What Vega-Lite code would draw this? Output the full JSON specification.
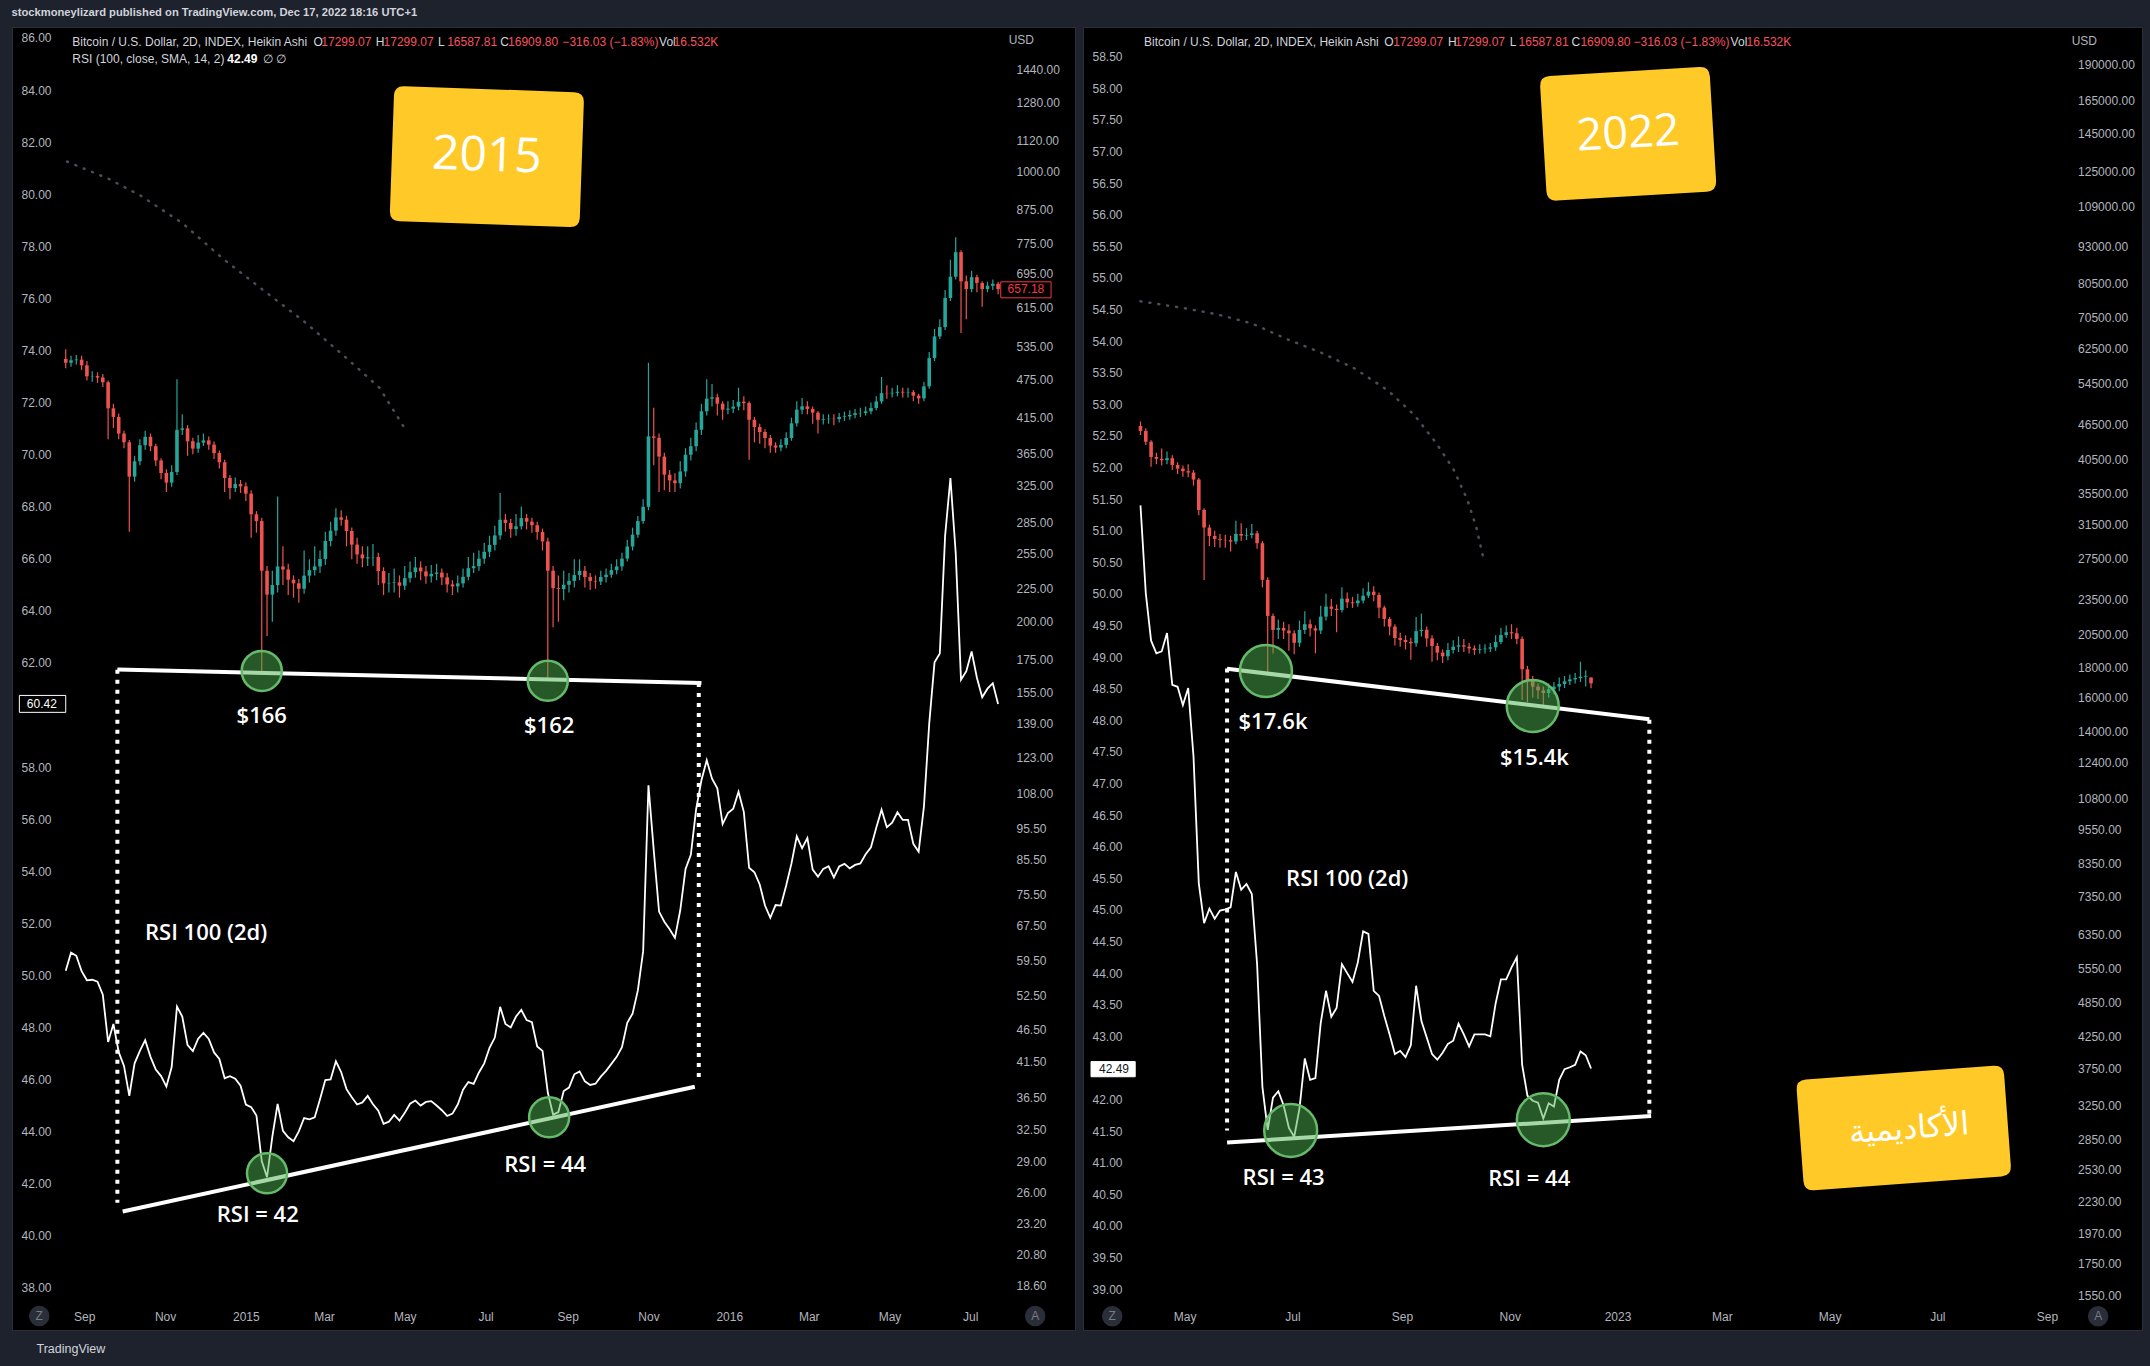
{
"$schema": "https://vega.github.io/schema/vega-lite/v6.json",
"background": "#1e222d",
"padding": {"left": 11, "top": 7, "right": 11, "bottom": 36},
"title": {"text": "stockmoneylizard published on TradingView.com, Dec 17, 2022 18:16 UTC+1", "anchor": "start", "frame": "bounds", "font": "Liberation Sans", "fontSize": 11.2, "fontWeight": "bold", "color": "#d1d4dc", "offset": 8},
"spacing": 6,
"config": {
  "view": {"fill": "#000000", "stroke": "#2a2e39", "strokeWidth": 1},
  "axis": {"labelFont": "Liberation Sans", "labelColor": "#b2b5be", "labelFontSize": 12, "ticks": false, "domain": false, "grid": false, "labelPadding": 0, "labelOverlap": false, "zindex": 1},
  "text": {"font": "Liberation Sans"}
},
"datasets": {
"cL": [
{"d":"2014-08-18","o":512,"h":530,"l":495,"c":505,"r":50.18},
{"d":"2014-08-22","o":505,"h":518,"l":498,"c":509.5,"r":50.87},
{"d":"2014-08-26","o":509.5,"h":519,"l":502,"c":510.7,"r":50.75},
{"d":"2014-08-30","o":510.7,"h":518,"l":492,"c":500.4,"r":50.16},
{"d":"2014-09-03","o":500.4,"h":508,"l":474,"c":481,"r":49.81},
{"d":"2014-09-07","o":481,"h":490,"l":472,"c":481.5,"r":49.83},
{"d":"2014-09-11","o":481.5,"h":488,"l":470,"c":479,"r":49.76},
{"d":"2014-09-15","o":479,"h":485,"l":463,"c":471,"r":49.26},
{"d":"2014-09-19","o":471,"h":474,"l":384,"c":429,"r":47.44},
{"d":"2014-09-23","o":429,"h":436,"l":400,"c":416,"r":48.13},
{"d":"2014-09-27","o":416,"h":421,"l":384,"c":392,"r":47.05},
{"d":"2014-10-01","o":392,"h":396,"l":372,"c":380,"r":46.52},
{"d":"2014-10-05","o":380,"h":383,"l":276,"c":336,"r":45.37},
{"d":"2014-10-09","o":336,"h":362,"l":330,"c":355,"r":46.62},
{"d":"2014-10-13","o":355,"h":384,"l":350,"c":376,"r":47.1},
{"d":"2014-10-17","o":376,"h":396,"l":370,"c":387.5,"r":47.51},
{"d":"2014-10-21","o":387.5,"h":392,"l":368,"c":374.6,"r":46.87},
{"d":"2014-10-25","o":374.6,"h":378,"l":349,"c":356,"r":46.38},
{"d":"2014-10-29","o":356,"h":359,"l":333,"c":340.4,"r":46.13},
{"d":"2014-11-02","o":340.4,"h":345,"l":318,"c":328.9,"r":45.73},
{"d":"2014-11-06","o":328.9,"h":350,"l":324,"c":341.6,"r":46.48},
{"d":"2014-11-10","o":341.6,"h":476,"l":338,"c":397.3,"r":48.8},
{"d":"2014-11-14","o":397.3,"h":420,"l":390,"c":399.4,"r":48.42},
{"d":"2014-11-18","o":399.4,"h":404,"l":362,"c":381.3,"r":47.32},
{"d":"2014-11-22","o":381.3,"h":386,"l":364,"c":371.4,"r":47.09},
{"d":"2014-11-26","o":371.4,"h":390,"l":366,"c":379.5,"r":47.57},
{"d":"2014-11-30","o":379.5,"h":392,"l":375,"c":382.6,"r":47.79},
{"d":"2014-12-04","o":382.6,"h":388,"l":370,"c":376.8,"r":47.56},
{"d":"2014-12-08","o":376.8,"h":381,"l":358,"c":365.6,"r":47.04},
{"d":"2014-12-12","o":365.6,"h":369,"l":346,"c":353.7,"r":46.79},
{"d":"2014-12-16","o":353.7,"h":357,"l":318,"c":334.4,"r":46.05},
{"d":"2014-12-20","o":334.4,"h":338,"l":310,"c":322.6,"r":46.13},
{"d":"2014-12-24","o":322.6,"h":335,"l":318,"c":327.2,"r":46.03},
{"d":"2014-12-28","o":327.2,"h":332,"l":317,"c":324.5,"r":45.76},
{"d":"2015-01-01","o":324.5,"h":329,"l":308,"c":316.2,"r":45.04},
{"d":"2015-01-05","o":316.2,"h":320,"l":270,"c":293.7,"r":44.94},
{"d":"2015-01-09","o":293.7,"h":297,"l":275,"c":286.6,"r":44.62},
{"d":"2015-01-13","o":286.6,"h":290,"l":166,"c":240,"r":42.87},
{"d":"2015-01-17","o":240,"h":244,"l":190,"c":220.3,"r":42.25},
{"d":"2015-01-21","o":220.3,"h":240,"l":200,"c":228,"r":43.81},
{"d":"2015-01-25","o":228,"h":313,"l":222,"c":243.7,"r":45.06},
{"d":"2015-01-29","o":243.7,"h":262,"l":228,"c":241,"r":44.03},
{"d":"2015-02-02","o":241,"h":246,"l":220,"c":232.4,"r":43.78},
{"d":"2015-02-06","o":232.4,"h":236,"l":218,"c":229.4,"r":43.63},
{"d":"2015-02-10","o":229.4,"h":233,"l":214,"c":225,"r":44.01},
{"d":"2015-02-14","o":225,"h":258,"l":221,"c":235.8,"r":44.52},
{"d":"2015-02-18","o":235.8,"h":250,"l":230,"c":240.5,"r":44.47},
{"d":"2015-02-22","o":240.5,"h":262,"l":236,"c":243.7,"r":44.55},
{"d":"2015-02-26","o":243.7,"h":258,"l":238,"c":250.3,"r":45.24},
{"d":"2015-03-02","o":250.3,"h":276,"l":245,"c":266.9,"r":45.98},
{"d":"2015-03-06","o":266.9,"h":286,"l":262,"c":277,"r":46.0},
{"d":"2015-03-10","o":277,"h":300,"l":272,"c":290.4,"r":46.7},
{"d":"2015-03-14","o":290.4,"h":298,"l":282,"c":288,"r":46.28},
{"d":"2015-03-18","o":288,"h":292,"l":262,"c":276.6,"r":45.63},
{"d":"2015-03-22","o":276.6,"h":280,"l":250,"c":263.5,"r":45.32},
{"d":"2015-03-26","o":263.5,"h":270,"l":246,"c":254.4,"r":45.04},
{"d":"2015-03-30","o":254.4,"h":262,"l":243,"c":250.8,"r":45.12},
{"d":"2015-04-03","o":250.8,"h":262,"l":244,"c":251.8,"r":45.37},
{"d":"2015-04-07","o":251.8,"h":264,"l":244,"c":252,"r":45.05},
{"d":"2015-04-11","o":252,"h":256,"l":228,"c":239.7,"r":44.8},
{"d":"2015-04-15","o":239.7,"h":243,"l":220,"c":229.4,"r":44.3},
{"d":"2015-04-19","o":229.4,"h":238,"l":222,"c":229.8,"r":44.38},
{"d":"2015-04-23","o":229.8,"h":242,"l":222,"c":230.2,"r":44.64},
{"d":"2015-04-27","o":230.2,"h":236,"l":218,"c":227.5,"r":44.42},
{"d":"2015-05-01","o":227.5,"h":244,"l":224,"c":233.7,"r":44.72},
{"d":"2015-05-05","o":233.7,"h":248,"l":230,"c":238.8,"r":45.07},
{"d":"2015-05-09","o":238.8,"h":252,"l":234,"c":242.8,"r":45.19},
{"d":"2015-05-13","o":242.8,"h":248,"l":232,"c":239.4,"r":45.0},
{"d":"2015-05-17","o":239.4,"h":244,"l":229,"c":235.2,"r":45.14},
{"d":"2015-05-21","o":235.2,"h":245,"l":230,"c":237.3,"r":45.17},
{"d":"2015-05-25","o":237.3,"h":246,"l":232,"c":238.4,"r":45.0},
{"d":"2015-05-29","o":238.4,"h":242,"l":228,"c":234.3,"r":44.82},
{"d":"2015-06-02","o":234.3,"h":238,"l":222,"c":228.5,"r":44.6},
{"d":"2015-06-06","o":228.5,"h":232,"l":220,"c":226.9,"r":44.69},
{"d":"2015-06-10","o":226.9,"h":236,"l":222,"c":229.4,"r":45.04},
{"d":"2015-06-14","o":229.4,"h":242,"l":226,"c":234.8,"r":45.61},
{"d":"2015-06-18","o":234.8,"h":252,"l":232,"c":242.2,"r":45.9},
{"d":"2015-06-22","o":242.2,"h":256,"l":238,"c":243.9,"r":45.83},
{"d":"2015-06-26","o":243.9,"h":258,"l":240,"c":250.6,"r":46.27},
{"d":"2015-06-30","o":250.6,"h":265,"l":246,"c":256.8,"r":46.62},
{"d":"2015-07-04","o":256.8,"h":272,"l":252,"c":263.2,"r":47.22},
{"d":"2015-07-08","o":263.2,"h":282,"l":258,"c":272.3,"r":47.61},
{"d":"2015-07-12","o":272.3,"h":317,"l":268,"c":288,"r":48.79},
{"d":"2015-07-16","o":288,"h":294,"l":276,"c":284.7,"r":48.13},
{"d":"2015-07-20","o":284.7,"h":289,"l":270,"c":278.5,"r":48.0},
{"d":"2015-07-24","o":278.5,"h":294,"l":272,"c":281.3,"r":48.42},
{"d":"2015-07-28","o":281.3,"h":302,"l":278,"c":289.7,"r":48.67},
{"d":"2015-08-01","o":289.7,"h":294,"l":278,"c":286,"r":48.28},
{"d":"2015-08-05","o":286,"h":290,"l":275,"c":282.4,"r":48.2},
{"d":"2015-08-09","o":282.4,"h":286,"l":268,"c":275.7,"r":47.27},
{"d":"2015-08-13","o":275.7,"h":279,"l":258,"c":266.5,"r":47.1},
{"d":"2015-08-17","o":266.5,"h":270,"l":162,"c":240,"r":45.5},
{"d":"2015-08-21","o":240,"h":244,"l":196,"c":225.5,"r":44.65},
{"d":"2015-08-25","o":225.5,"h":236,"l":200,"c":224.8,"r":44.75},
{"d":"2015-08-29","o":224.8,"h":240,"l":216,"c":228.2,"r":45.56},
{"d":"2015-09-02","o":228.2,"h":238,"l":222,"c":231.4,"r":45.69},
{"d":"2015-09-06","o":231.4,"h":250,"l":226,"c":236.3,"r":46.2},
{"d":"2015-09-10","o":236.3,"h":250,"l":232,"c":239.9,"r":46.31},
{"d":"2015-09-14","o":239.9,"h":244,"l":226,"c":234.6,"r":45.93},
{"d":"2015-09-18","o":234.6,"h":238,"l":224,"c":231.4,"r":45.79},
{"d":"2015-09-22","o":231.4,"h":236,"l":225,"c":230.9,"r":45.84},
{"d":"2015-09-26","o":230.9,"h":240,"l":228,"c":234.6,"r":46.11},
{"d":"2015-09-30","o":234.6,"h":242,"l":230,"c":236.6,"r":46.33},
{"d":"2015-10-04","o":236.6,"h":246,"l":234,"c":240.5,"r":46.6},
{"d":"2015-10-08","o":240.5,"h":250,"l":237,"c":243.7,"r":46.87},
{"d":"2015-10-12","o":243.7,"h":256,"l":240,"c":250.6,"r":47.24},
{"d":"2015-10-16","o":250.6,"h":268,"l":248,"c":261.7,"r":48.18},
{"d":"2015-10-20","o":261.7,"h":280,"l":258,"c":273,"r":48.53},
{"d":"2015-10-24","o":273,"h":292,"l":270,"c":286.6,"r":49.42},
{"d":"2015-10-28","o":286.6,"h":310,"l":284,"c":301.7,"r":50.93},
{"d":"2015-11-01","o":301.7,"h":505,"l":298,"c":388,"r":57.3},
{"d":"2015-11-05","o":388,"h":430,"l":350,"c":386,"r":54.8},
{"d":"2015-11-09","o":386,"h":392,"l":318,"c":361,"r":52.45},
{"d":"2015-11-13","o":361,"h":366,"l":320,"c":338.4,"r":52.06},
{"d":"2015-11-17","o":338.4,"h":344,"l":318,"c":331.5,"r":51.77},
{"d":"2015-11-21","o":331.5,"h":340,"l":318,"c":328.3,"r":51.44},
{"d":"2015-11-25","o":328.3,"h":355,"l":322,"c":342.3,"r":52.5},
{"d":"2015-11-29","o":342.3,"h":372,"l":336,"c":363.4,"r":54.09},
{"d":"2015-12-03","o":363.4,"h":386,"l":356,"c":374.6,"r":54.63},
{"d":"2015-12-07","o":374.6,"h":408,"l":368,"c":397.3,"r":56.38},
{"d":"2015-12-11","o":397.3,"h":436,"l":390,"c":424.5,"r":57.49},
{"d":"2015-12-15","o":424.5,"h":476,"l":418,"c":444.1,"r":58.26},
{"d":"2015-12-19","o":444.1,"h":468,"l":432,"c":446.3,"r":57.55},
{"d":"2015-12-23","o":446.3,"h":452,"l":418,"c":436.2,"r":57.18},
{"d":"2015-12-27","o":436.2,"h":440,"l":412,"c":427,"r":55.81},
{"d":"2015-12-31","o":427,"h":440,"l":420,"c":428.6,"r":56.23},
{"d":"2016-01-04","o":428.6,"h":442,"l":422,"c":431.6,"r":56.4},
{"d":"2016-01-08","o":431.6,"h":462,"l":426,"c":439.3,"r":57.05},
{"d":"2016-01-12","o":439.3,"h":448,"l":426,"c":437.2,"r":56.28},
{"d":"2016-01-16","o":437.2,"h":440,"l":357,"c":411.8,"r":54.13},
{"d":"2016-01-20","o":411.8,"h":416,"l":380,"c":401.3,"r":53.96},
{"d":"2016-01-24","o":401.3,"h":406,"l":378,"c":394.2,"r":53.49},
{"d":"2016-01-28","o":394.2,"h":398,"l":372,"c":385.8,"r":52.68},
{"d":"2016-02-01","o":385.8,"h":390,"l":366,"c":375.5,"r":52.21},
{"d":"2016-02-05","o":375.5,"h":380,"l":366,"c":372.8,"r":52.7},
{"d":"2016-02-09","o":372.8,"h":384,"l":368,"c":376.4,"r":52.68},
{"d":"2016-02-13","o":376.4,"h":394,"l":372,"c":385.8,"r":53.45},
{"d":"2016-02-17","o":385.8,"h":415,"l":382,"c":406.6,"r":54.3},
{"d":"2016-02-21","o":406.6,"h":440,"l":402,"c":427,"r":55.34},
{"d":"2016-02-25","o":427,"h":445,"l":420,"c":432.1,"r":54.88},
{"d":"2016-02-29","o":432.1,"h":440,"l":420,"c":428.1,"r":55.27},
{"d":"2016-03-04","o":428.1,"h":432,"l":406,"c":422.5,"r":54.06},
{"d":"2016-03-08","o":422.5,"h":425,"l":392,"c":411.8,"r":53.79},
{"d":"2016-03-12","o":411.8,"h":420,"l":405,"c":412.8,"r":54.09},
{"d":"2016-03-16","o":412.8,"h":420,"l":406,"c":413.3,"r":54.19},
{"d":"2016-03-20","o":413.3,"h":420,"l":404,"c":412.8,"r":53.76},
{"d":"2016-03-24","o":412.8,"h":422,"l":408,"c":415.9,"r":54.18},
{"d":"2016-03-28","o":415.9,"h":424,"l":410,"c":416.9,"r":54.28},
{"d":"2016-04-01","o":416.9,"h":426,"l":412,"c":419,"r":54.11},
{"d":"2016-04-05","o":419,"h":428,"l":414,"c":421.5,"r":54.24},
{"d":"2016-04-09","o":421.5,"h":430,"l":416,"c":422,"r":54.3},
{"d":"2016-04-13","o":422,"h":432,"l":418,"c":424.5,"r":54.65},
{"d":"2016-04-17","o":424.5,"h":438,"l":420,"c":429.6,"r":54.92},
{"d":"2016-04-21","o":429.6,"h":448,"l":426,"c":439.8,"r":55.67},
{"d":"2016-04-25","o":439.8,"h":480,"l":436,"c":453,"r":56.36},
{"d":"2016-04-29","o":453,"h":466,"l":444,"c":452.5,"r":55.69},
{"d":"2016-05-03","o":452.5,"h":462,"l":446,"c":453.5,"r":55.86},
{"d":"2016-05-07","o":453.5,"h":466,"l":448,"c":455.1,"r":56.26},
{"d":"2016-05-11","o":455.1,"h":462,"l":446,"c":454,"r":55.97},
{"d":"2016-05-15","o":454,"h":462,"l":446,"c":454.6,"r":55.97},
{"d":"2016-05-19","o":454.6,"h":458,"l":440,"c":448.9,"r":55.05},
{"d":"2016-05-23","o":448.9,"h":452,"l":436,"c":444.6,"r":54.75},
{"d":"2016-05-27","o":444.6,"h":472,"l":440,"c":464.1,"r":56.48},
{"d":"2016-05-31","o":464.1,"h":525,"l":460,"c":513.7,"r":59.67},
{"d":"2016-06-04","o":513.7,"h":570,"l":508,"c":554.9,"r":62.02},
{"d":"2016-06-08","o":554.9,"h":590,"l":550,"c":573.8,"r":62.36},
{"d":"2016-06-12","o":573.8,"h":655,"l":568,"c":636.7,"r":66.89},
{"d":"2016-06-16","o":636.7,"h":730,"l":630,"c":687,"r":69.1},
{"d":"2016-06-20","o":687,"h":791,"l":680,"c":750,"r":66.22},
{"d":"2016-06-24","o":750,"h":755,"l":561.5,"c":675.8,"r":61.35},
{"d":"2016-06-28","o":675.8,"h":690,"l":590,"c":657.3,"r":61.68},
{"d":"2016-07-02","o":657.3,"h":702,"l":650,"c":686,"r":62.44},
{"d":"2016-07-06","o":686,"h":692,"l":650,"c":671.6,"r":61.43},
{"d":"2016-07-10","o":671.6,"h":676,"l":617,"c":657.3,"r":60.68},
{"d":"2016-07-14","o":657.3,"h":675,"l":650,"c":665.2,"r":61.01},
{"d":"2016-07-18","o":665.2,"h":680,"l":655,"c":670,"r":61.22},
{"d":"2016-07-22","o":670,"h":675,"l":645,"c":657.18,"r":60.42}
],
"cR": [
{"d":"2022-04-06","o":46200,"h":47030,"l":44600,"c":45320,"r":51.4},
{"d":"2022-04-09","o":45320,"h":45800,"l":42900,"c":43450,"r":50.01},
{"d":"2022-04-12","o":43450,"h":43700,"l":39400,"c":40930,"r":49.26},
{"d":"2022-04-15","o":40930,"h":41600,"l":39800,"c":40640,"r":49.06},
{"d":"2022-04-18","o":40640,"h":42300,"l":39600,"c":40420,"r":49.09},
{"d":"2022-04-21","o":40420,"h":41800,"l":39800,"c":40740,"r":49.38},
{"d":"2022-04-24","o":40740,"h":41200,"l":38900,"c":39680,"r":48.56},
{"d":"2022-04-27","o":39680,"h":40100,"l":38300,"c":39120,"r":48.53},
{"d":"2022-04-30","o":39120,"h":39600,"l":37900,"c":38720,"r":48.24},
{"d":"2022-05-03","o":38720,"h":39800,"l":37800,"c":38520,"r":48.51},
{"d":"2022-05-06","o":38520,"h":38900,"l":36600,"c":37480,"r":47.43},
{"d":"2022-05-09","o":37480,"h":37700,"l":32600,"c":33280,"r":45.42},
{"d":"2022-05-12","o":33280,"h":33500,"l":25320,"c":31070,"r":44.79},
{"d":"2022-05-15","o":31070,"h":31400,"l":28900,"c":30070,"r":45.02},
{"d":"2022-05-18","o":30070,"h":30700,"l":28800,"c":29720,"r":44.86},
{"d":"2022-05-21","o":29720,"h":30300,"l":28700,"c":29610,"r":44.99},
{"d":"2022-05-24","o":29610,"h":30200,"l":28700,"c":29570,"r":45.01},
{"d":"2022-05-27","o":29570,"h":30100,"l":28300,"c":29420,"r":45.04},
{"d":"2022-05-30","o":29420,"h":31900,"l":29100,"c":30300,"r":45.6},
{"d":"2022-06-02","o":30300,"h":31600,"l":29500,"c":30110,"r":45.32},
{"d":"2022-06-05","o":30110,"h":31000,"l":29600,"c":30190,"r":45.41},
{"d":"2022-06-08","o":30190,"h":31500,"l":29800,"c":30380,"r":45.25},
{"d":"2022-06-11","o":30380,"h":30700,"l":28600,"c":29230,"r":44.14},
{"d":"2022-06-14","o":29230,"h":29500,"l":24600,"c":25330,"r":42.2},
{"d":"2022-06-17","o":25330,"h":25600,"l":17600,"c":22000,"r":41.52},
{"d":"2022-06-20","o":22000,"h":22200,"l":19000,"c":20830,"r":42.03},
{"d":"2022-06-23","o":20830,"h":21700,"l":20100,"c":20990,"r":42.13},
{"d":"2022-06-26","o":20990,"h":21500,"l":20100,"c":20780,"r":41.91},
{"d":"2022-06-29","o":20780,"h":21300,"l":19200,"c":20555,"r":41.55},
{"d":"2022-07-02","o":20555,"h":20800,"l":18950,"c":19810,"r":41.41},
{"d":"2022-07-05","o":19810,"h":21600,"l":19500,"c":20830,"r":41.86},
{"d":"2022-07-08","o":20830,"h":22400,"l":20500,"c":21300,"r":42.65},
{"d":"2022-07-11","o":21300,"h":21700,"l":20300,"c":20960,"r":42.31},
{"d":"2022-07-14","o":20960,"h":21200,"l":19010,"c":20780,"r":42.34},
{"d":"2022-07-17","o":20780,"h":22900,"l":20500,"c":21940,"r":43.21},
{"d":"2022-07-20","o":21940,"h":24000,"l":21600,"c":22820,"r":43.72},
{"d":"2022-07-23","o":22820,"h":23500,"l":22000,"c":22620,"r":43.31},
{"d":"2022-07-26","o":22620,"h":23000,"l":20640,"c":22520,"r":43.45},
{"d":"2022-07-29","o":22520,"h":24600,"l":22300,"c":23540,"r":44.14},
{"d":"2022-08-01","o":23540,"h":24100,"l":22700,"c":23200,"r":44.0},
{"d":"2022-08-04","o":23200,"h":23700,"l":22700,"c":23120,"r":43.86},
{"d":"2022-08-07","o":23120,"h":24000,"l":22800,"c":23360,"r":44.17},
{"d":"2022-08-10","o":23360,"h":24500,"l":23100,"c":23810,"r":44.66},
{"d":"2022-08-13","o":23810,"h":25100,"l":23600,"c":24190,"r":44.62},
{"d":"2022-08-16","o":24190,"h":24700,"l":23300,"c":23880,"r":43.72},
{"d":"2022-08-19","o":23880,"h":24100,"l":21800,"c":22730,"r":43.64},
{"d":"2022-08-22","o":22730,"h":22900,"l":21100,"c":21740,"r":43.32},
{"d":"2022-08-25","o":21740,"h":21900,"l":20400,"c":21100,"r":43.03},
{"d":"2022-08-28","o":21100,"h":21300,"l":19600,"c":20180,"r":42.72},
{"d":"2022-08-31","o":20180,"h":20600,"l":19500,"c":20030,"r":42.77},
{"d":"2022-09-03","o":20030,"h":20400,"l":19300,"c":19870,"r":42.67},
{"d":"2022-09-06","o":19870,"h":20200,"l":18530,"c":19770,"r":42.86},
{"d":"2022-09-09","o":19770,"h":21900,"l":19500,"c":20730,"r":43.8},
{"d":"2022-09-12","o":20730,"h":22200,"l":20300,"c":20840,"r":43.24},
{"d":"2022-09-15","o":20840,"h":21100,"l":19500,"c":20150,"r":42.98},
{"d":"2022-09-18","o":20150,"h":20400,"l":18400,"c":19560,"r":42.72},
{"d":"2022-09-21","o":19560,"h":19800,"l":18500,"c":19060,"r":42.63},
{"d":"2022-09-24","o":19060,"h":19300,"l":18300,"c":18790,"r":42.74},
{"d":"2022-09-27","o":18790,"h":19800,"l":18500,"c":19260,"r":42.88},
{"d":"2022-09-30","o":19260,"h":20000,"l":19000,"c":19510,"r":42.93},
{"d":"2022-10-03","o":19510,"h":20300,"l":19100,"c":19610,"r":43.2},
{"d":"2022-10-06","o":19610,"h":20100,"l":19100,"c":19510,"r":43.03},
{"d":"2022-10-09","o":19510,"h":19800,"l":19000,"c":19380,"r":42.84},
{"d":"2022-10-12","o":19380,"h":19600,"l":18900,"c":19260,"r":43.03},
{"d":"2022-10-15","o":19260,"h":19700,"l":19000,"c":19310,"r":43.03},
{"d":"2022-10-18","o":19310,"h":19700,"l":19000,"c":19360,"r":43.03},
{"d":"2022-10-21","o":19360,"h":19800,"l":19100,"c":19460,"r":43.0},
{"d":"2022-10-24","o":19460,"h":20400,"l":19200,"c":19870,"r":43.52},
{"d":"2022-10-27","o":19870,"h":21000,"l":19700,"c":20420,"r":43.9},
{"d":"2022-10-30","o":20420,"h":21200,"l":20200,"c":20640,"r":43.9},
{"d":"2022-11-02","o":20640,"h":21300,"l":20100,"c":20555,"r":44.09},
{"d":"2022-11-05","o":20555,"h":21000,"l":19700,"c":20110,"r":44.25},
{"d":"2022-11-08","o":20110,"h":20300,"l":15840,"c":17860,"r":42.55},
{"d":"2022-11-11","o":17860,"h":18100,"l":15700,"c":17100,"r":42.06},
{"d":"2022-11-14","o":17100,"h":17400,"l":16000,"c":16690,"r":41.98},
{"d":"2022-11-17","o":16690,"h":16900,"l":15900,"c":16450,"r":41.95},
{"d":"2022-11-20","o":16450,"h":16700,"l":15480,"c":16280,"r":41.7},
{"d":"2022-11-23","o":16280,"h":16900,"l":16000,"c":16520,"r":41.94},
{"d":"2022-11-26","o":16520,"h":17000,"l":16200,"c":16690,"r":41.89},
{"d":"2022-11-29","o":16690,"h":17300,"l":16400,"c":16860,"r":42.31},
{"d":"2022-12-02","o":16860,"h":17400,"l":16600,"c":17040,"r":42.48},
{"d":"2022-12-05","o":17040,"h":17500,"l":16800,"c":17170,"r":42.51},
{"d":"2022-12-08","o":17170,"h":17600,"l":16900,"c":17260,"r":42.55},
{"d":"2022-12-11","o":17260,"h":18400,"l":17000,"c":17350,"r":42.76},
{"d":"2022-12-14","o":17350,"h":17800,"l":16700,"c":17400,"r":42.7},
{"d":"2022-12-17","o":17299.07,"h":17299.07,"l":16587.81,"c":16909.8,"r":42.49}
]
},
"hconcat": [
{
"width": 1063, "height": 1303,
"resolve": {"scale": {"y": "independent"}, "axis": {"x": "independent"}},
"layer": [
  {"data": {"name": "cL"},
   "mark": {"type": "rule", "strokeWidth": 1.2},
   "encoding": {
     "x": {"field": "d", "type": "temporal", "title": "TradingView",
       "scale": {"type": "utc", "nice": false, "domain": [{"year": 2014, "month": 7, "date": 12, "hours": 5, "utc": true}, {"year": 2016, "month": 9, "date": 14, "hours": 7, "utc": true}]},
       "axis": {"orient": "bottom", "offset": -14, "labelBaseline": "middle",
         "values": [{"year": 2014, "month": 9, "date": 1, "utc": true}, {"year": 2014, "month": 11, "date": 1, "utc": true}, {"year": 2015, "month": 1, "date": 1, "utc": true}, {"year": 2015, "month": 3, "date": 1, "utc": true}, {"year": 2015, "month": 5, "date": 1, "utc": true}, {"year": 2015, "month": 7, "date": 1, "utc": true}, {"year": 2015, "month": 9, "date": 1, "utc": true}, {"year": 2015, "month": 11, "date": 1, "utc": true}, {"year": 2016, "month": 1, "date": 1, "utc": true}, {"year": 2016, "month": 3, "date": 1, "utc": true}, {"year": 2016, "month": 5, "date": 1, "utc": true}, {"year": 2016, "month": 7, "date": 1, "utc": true}],
         "labelExpr": "utcmonth(datum.value) === 0 ? utcFormat(datum.value, '%Y') : utcFormat(datum.value, '%b')",
         "labelFlush": false,
         "titleX": 24, "titleY": 32, "titleAlign": "left", "titleBaseline": "middle", "titleAngle": 0,
         "titleFont": "Liberation Sans", "titleFontSize": 12.5, "titleFontWeight": "normal", "titleColor": "#d1d4dc"}},
     "y": {"field": "l", "type": "quantitative", "title": null,
       "scale": {"type": "log", "domain": [15.87, 1678.5]},
       "axis": {"orient": "right", "offset": -59, "labelAlign": "left", "labelBaseline": "middle", "format": ".2f",
         "values": [1440, 1280, 1120, 1000, 875, 775, 695, 615, 535, 475, 415, 365, 325, 285, 255, 225, 200, 175, 155, 139, 123, 108, 95.5, 85.5, 75.5, 67.5, 59.5, 52.5, 46.5, 41.5, 36.5, 32.5, 29, 26, 23.2, 20.8, 18.6]}},
     "y2": {"field": "h"},
     "color": {"condition": {"test": "datum.c >= datum.o", "value": "#26a69a"}, "value": "#ef5350"}}},
  {"data": {"name": "cL"},
   "mark": {"type": "bar", "width": 3.6},
   "encoding": {
     "x": {"field": "d", "type": "temporal", "axis": null},
     "y": {"field": "o", "type": "quantitative", "scale": {"type": "log", "domain": [15.87, 1678.5]}, "axis": null},
     "y2": {"field": "c"},
     "color": {"condition": {"test": "datum.c >= datum.o", "value": "#26a69a"}, "value": "#ef5350"}}},
  {"data": {"values": [{"d": "2014-09-26", "d2": "2015-12-11", "p": 168.5, "p2": 160.6}]},
   "mark": {"type": "rule", "color": "#ffffff", "strokeWidth": 4},
   "encoding": {"x": {"field": "d", "type": "temporal", "axis": null}, "x2": {"field": "d2"}, "y": {"field": "p", "type": "quantitative", "scale": {"type": "log", "domain": [15.87, 1678.5]}, "axis": null}, "y2": {"field": "p2"}}},
  {"data": {"values": [{"d": "2015-01-13", "p": 167.7}, {"d": "2015-08-17", "p": 161.9}]},
   "mark": {"type": "point", "shape": "circle", "filled": true, "size": 1605, "fill": "#4caf50", "fillOpacity": 0.5, "stroke": "#66bb6a", "strokeWidth": 2.5, "strokeOpacity": 1, "opacity": 1},
   "encoding": {"x": {"field": "d", "type": "temporal", "axis": null}, "y": {"field": "p", "type": "quantitative", "scale": {"type": "log", "domain": [15.87, 1678.5]}, "axis": null}}},
  {"data": {"values": [{"d": "2016-07-24", "d2": "2016-08-31", "p": 637, "p2": 674.6}]},
   "mark": {"type": "rect", "fill": "#000000", "stroke": "#f23645", "strokeWidth": 1},
   "encoding": {"x": {"field": "d", "type": "temporal", "axis": null}, "x2": {"field": "d2"}, "y": {"field": "p", "type": "quantitative", "scale": {"type": "log", "domain": [15.87, 1678.5]}, "axis": null}, "y2": {"field": "p2"}}},
  {"data": {"values": [{"d": "2016-08-12", "p": 657.18, "t": "657.18"}]},
   "mark": {"type": "text", "color": "#f23645", "fontSize": 12},
   "encoding": {"x": {"field": "d", "type": "temporal", "axis": null}, "y": {"field": "p", "type": "quantitative", "scale": {"type": "log", "domain": [15.87, 1678.5]}, "axis": null}, "text": {"field": "t"}}},
  {"data": {"values": [{"d": "2014-08-19", "v": 81.25}, {"d": "2014-09-19", "v": 80.6}, {"d": "2014-10-14", "v": 79.93}, {"d": "2014-11-14", "v": 78.89}, {"d": "2014-12-15", "v": 77.51}, {"d": "2015-01-14", "v": 76.32}, {"d": "2015-02-14", "v": 75.11}, {"d": "2015-03-17", "v": 73.75}, {"d": "2015-04-12", "v": 72.56}, {"d": "2015-05-01", "v": 71.0}]},
   "mark": {"type": "line", "color": "#4a4e59", "strokeWidth": 2.5, "strokeDash": [1, 8], "strokeCap": "round"},
   "encoding": {
     "x": {"field": "d", "type": "temporal", "axis": null},
     "y": {"field": "v", "type": "quantitative", "title": null,
       "scale": {"domain": [36.38, 86.42]},
       "axis": {"orient": "left", "offset": -39, "labelAlign": "right", "labelBaseline": "middle", "format": ".2f",
         "values": [38, 40, 42, 44, 46, 48, 50, 52, 54, 56, 58, 62, 64, 66, 68, 70, 72, 74, 76, 78, 80, 82, 84, 86]}}}},
  {"data": {"name": "cL"},
   "mark": {"type": "line", "color": "#ffffff", "strokeWidth": 1.8},
   "encoding": {"x": {"field": "d", "type": "temporal", "axis": null}, "y": {"field": "r", "type": "quantitative", "scale": {"domain": [36.38, 86.42]}, "axis": null}}},
  {"data": {"values": [{"d": "2014-09-26", "v": 61.74, "v2": 41.27}, {"d": "2015-12-09", "v": 61.23, "v2": 45.91}]},
   "mark": {"type": "rule", "color": "#ffffff", "strokeWidth": 4, "strokeDash": [4, 6]},
   "encoding": {"x": {"field": "d", "type": "temporal", "axis": null}, "y": {"field": "v", "type": "quantitative", "scale": {"domain": [36.38, 86.42]}, "axis": null}, "y2": {"field": "v2"}}},
  {"data": {"values": [{"d": "2014-09-30", "d2": "2015-12-06", "v": 40.93, "v2": 45.72}]},
   "mark": {"type": "rule", "color": "#ffffff", "strokeWidth": 4},
   "encoding": {"x": {"field": "d", "type": "temporal", "axis": null}, "x2": {"field": "d2"}, "y": {"field": "v", "type": "quantitative", "scale": {"domain": [36.38, 86.42]}, "axis": null}, "y2": {"field": "v2"}}},
  {"data": {"values": [{"d": "2015-01-17", "v": 42.4}, {"d": "2015-08-18", "v": 44.55}]},
   "mark": {"type": "point", "shape": "circle", "filled": true, "size": 1605, "fill": "#4caf50", "fillOpacity": 0.5, "stroke": "#66bb6a", "strokeWidth": 2.5, "strokeOpacity": 1, "opacity": 1},
   "encoding": {"x": {"field": "d", "type": "temporal", "axis": null}, "y": {"field": "v", "type": "quantitative", "scale": {"domain": [36.38, 86.42]}, "axis": null}}},
  {"data": {"values": [{"d": "2015-01-13", "v": 59.96, "t": "$166"}, {"d": "2015-08-18", "v": 59.58, "t": "$162"}, {"d": "2015-01-10", "v": 40.81, "t": "RSI = 42"}, {"d": "2015-08-15", "v": 42.7, "t": "RSI = 44"}, {"d": "2014-12-02", "v": 51.64, "t": "RSI 100 (2d)"}]},
   "mark": {"type": "text", "font": "Open Sans", "fontSize": 22, "fontWeight": 600, "color": "#ffffff"},
   "encoding": {"x": {"field": "d", "type": "temporal", "axis": null}, "y": {"field": "v", "type": "quantitative", "scale": {"domain": [36.38, 86.42]}, "axis": null}, "text": {"field": "t"}}},
  {"data": {"values": [{"d": "2015-07-02", "v": 81.44}]},
   "mark": {"type": "point", "shape": "M-0.895,-0.7105L0.895,-0.7105Q1,-0.7105 1,-0.6055L1,0.6055Q1,0.7105 0.895,0.7105L-0.895,0.7105Q-1,0.7105 -1,0.6055L-1,-0.6055Q-1,-0.7105 -0.895,-0.7105Z", "filled": true, "fill": "#ffca28", "size": 36100, "angle": 2, "opacity": 1, "strokeWidth": 0},
   "encoding": {"x": {"field": "d", "type": "temporal", "axis": null}, "y": {"field": "v", "type": "quantitative", "scale": {"domain": [36.38, 86.42]}, "axis": null}}},
  {"data": {"values": [{"d": "2015-07-02", "v": 81.44, "t": "2015"}]},
   "mark": {"type": "text", "font": "Open Sans", "fontSize": 48, "color": "#ffffff", "angle": 2},
   "encoding": {"x": {"field": "d", "type": "temporal", "axis": null}, "y": {"field": "v", "type": "quantitative", "scale": {"domain": [36.38, 86.42]}, "axis": null}, "text": {"field": "t"}}},
  {"data": {"values": [
     {"d": "2014-08-23", "v": 85.86, "t": "Bitcoin / U.S. Dollar, 2D, INDEX, Heikin Ashi", "k": "lab"},
     {"d": "2015-02-21", "v": 85.86, "t": "O", "k": "lab"}, {"d": "2015-02-27", "v": 85.86, "t": "17299.07", "k": "val"},
     {"d": "2015-04-09", "v": 85.86, "t": "H", "k": "lab"}, {"d": "2015-04-15", "v": 85.86, "t": "17299.07", "k": "val"},
     {"d": "2015-05-26", "v": 85.86, "t": "L", "k": "lab"}, {"d": "2015-06-02", "v": 85.86, "t": "16587.81", "k": "val"},
     {"d": "2015-07-12", "v": 85.86, "t": "C", "k": "lab"}, {"d": "2015-07-18", "v": 85.86, "t": "16909.80", "k": "val"},
     {"d": "2015-08-28", "v": 85.86, "t": "−316.03 (−1.83%)", "k": "val"},
     {"d": "2015-11-09", "v": 85.86, "t": "Vol", "k": "lab"}, {"d": "2015-11-20", "v": 85.86, "t": "16.532K", "k": "val"},
     {"d": "2014-08-23", "v": 85.19, "t": "RSI (100, close, SMA, 14, 2)", "k": "lab"},
     {"d": "2015-01-14", "v": 85.19, "t": "∅  ∅", "k": "lab"}]},
   "mark": {"type": "text", "fontSize": 12, "align": "left"},
   "encoding": {"x": {"field": "d", "type": "temporal", "axis": null}, "y": {"field": "v", "type": "quantitative", "scale": {"domain": [36.38, 86.42]}, "axis": null}, "text": {"field": "t"},
     "color": {"field": "k", "type": "nominal", "legend": null, "scale": {"domain": ["lab", "val"], "range": ["#d1d4dc", "#f7525f"]}}}},
  {"data": {"values": [{"d": "2014-12-18", "v": 85.19, "t": "42.49"}]},
   "mark": {"type": "text", "fontSize": 12, "fontWeight": "bold", "align": "left", "color": "#ffffff"},
   "encoding": {"x": {"field": "d", "type": "temporal", "axis": null}, "y": {"field": "v", "type": "quantitative", "scale": {"domain": [36.38, 86.42]}, "axis": null}, "text": {"field": "t"}}},
  {"data": {"values": [{"d": "2016-07-30", "v": 85.92, "t": "USD"}]},
   "mark": {"type": "text", "fontSize": 12, "align": "left", "color": "#b2b5be"},
   "encoding": {"x": {"field": "d", "type": "temporal", "axis": null}, "y": {"field": "v", "type": "quantitative", "scale": {"domain": [36.38, 86.42]}, "axis": null}, "text": {"field": "t"}}},
  {"data": {"values": [{"d": "2014-07-14", "d2": "2014-08-18", "v": 60.1, "v2": 60.75}]},
   "mark": {"type": "rect", "fill": "#000000", "stroke": "#ffffff", "strokeWidth": 1},
   "encoding": {"x": {"field": "d", "type": "temporal", "axis": null}, "x2": {"field": "d2"}, "y": {"field": "v", "type": "quantitative", "scale": {"domain": [36.38, 86.42]}, "axis": null}, "y2": {"field": "v2"}}},
  {"data": {"values": [{"d": "2014-07-31", "v": 60.42, "t": "60.42"}]},
   "mark": {"type": "text", "fontSize": 12, "color": "#ffffff"},
   "encoding": {"x": {"field": "d", "type": "temporal", "axis": null}, "y": {"field": "v", "type": "quantitative", "scale": {"domain": [36.38, 86.42]}, "axis": null}, "text": {"field": "t"}}},
  {"data": {"values": [{"d": "2014-07-29", "v": 36.92}, {"d": "2016-08-19", "v": 36.92}]},
   "mark": {"type": "point", "shape": "circle", "filled": true, "size": 420, "fill": "#2a2e39", "opacity": 1},
   "encoding": {"x": {"field": "d", "type": "temporal", "axis": null}, "y": {"field": "v", "type": "quantitative", "scale": {"domain": [36.38, 86.42]}, "axis": null}}},
  {"data": {"values": [{"d": "2014-07-29", "v": 36.92, "t": "Z"}, {"d": "2016-08-19", "v": 36.92, "t": "A"}]},
   "mark": {"type": "text", "fontSize": 12, "color": "#787b86"},
   "encoding": {"x": {"field": "d", "type": "temporal", "axis": null}, "y": {"field": "v", "type": "quantitative", "scale": {"domain": [36.38, 86.42]}, "axis": null}, "text": {"field": "t"}}}
]
},
{
"width": 1059, "height": 1303,
"resolve": {"scale": {"y": "independent"}, "axis": {"x": "independent"}},
"layer": [
  {"data": {"name": "cR"},
   "mark": {"type": "rule", "strokeWidth": 1.2},
   "encoding": {
     "x": {"field": "d", "type": "temporal", "title": null,
       "scale": {"type": "utc", "nice": false, "domain": [{"year": 2022, "month": 3, "date": 7, "hours": 7, "utc": true}, {"year": 2023, "month": 10, "date": 22, "utc": true}]},
       "axis": {"orient": "bottom", "offset": -14, "labelBaseline": "middle", "labelFlush": false,
         "values": [{"year": 2022, "month": 5, "date": 1, "utc": true}, {"year": 2022, "month": 7, "date": 1, "utc": true}, {"year": 2022, "month": 9, "date": 1, "utc": true}, {"year": 2022, "month": 11, "date": 1, "utc": true}, {"year": 2023, "month": 1, "date": 1, "utc": true}, {"year": 2023, "month": 3, "date": 1, "utc": true}, {"year": 2023, "month": 5, "date": 1, "utc": true}, {"year": 2023, "month": 7, "date": 1, "utc": true}, {"year": 2023, "month": 9, "date": 1, "utc": true}],
         "labelExpr": "utcmonth(datum.value) === 0 ? utcFormat(datum.value, '%Y') : utcFormat(datum.value, '%b')"}},
     "y": {"field": "l", "type": "quantitative", "title": null,
       "scale": {"type": "log", "domain": [1352, 219560]},
       "axis": {"orient": "right", "offset": -64.4, "labelAlign": "left", "labelBaseline": "middle", "format": ".2f",
         "values": [190000, 165000, 145000, 125000, 109000, 93000, 80500, 70500, 62500, 54500, 46500, 40500, 35500, 31500, 27500, 23500, 20500, 18000, 16000, 14000, 12400, 10800, 9550, 8350, 7350, 6350, 5550, 4850, 4250, 3750, 3250, 2850, 2530, 2230, 1970, 1750, 1550]}},
     "y2": {"field": "h"},
     "color": {"condition": {"test": "datum.c >= datum.o", "value": "#26a69a"}, "value": "#ef5350"}}},
  {"data": {"name": "cR"},
   "mark": {"type": "bar", "width": 3.6},
   "encoding": {
     "x": {"field": "d", "type": "temporal", "axis": null},
     "y": {"field": "o", "type": "quantitative", "scale": {"type": "log", "domain": [1352, 219560]}, "axis": null},
     "y2": {"field": "c"},
     "color": {"condition": {"test": "datum.c >= datum.o", "value": "#26a69a"}, "value": "#ef5350"}}},
  {"data": {"values": [{"d": "2022-05-25", "d2": "2023-01-19", "p": 17898, "p2": 14695}]},
   "mark": {"type": "rule", "color": "#ffffff", "strokeWidth": 4},
   "encoding": {"x": {"field": "d", "type": "temporal", "axis": null}, "x2": {"field": "d2"}, "y": {"field": "p", "type": "quantitative", "scale": {"type": "log", "domain": [1352, 219560]}, "axis": null}, "y2": {"field": "p2"}}},
  {"data": {"values": [{"d": "2022-06-16", "p": 17745}, {"d": "2022-11-14", "p": 15475}]},
   "mark": {"type": "point", "shape": "circle", "filled": true, "size": 2700, "fill": "#4caf50", "fillOpacity": 0.5, "stroke": "#66bb6a", "strokeWidth": 2.5, "strokeOpacity": 1, "opacity": 1},
   "encoding": {"x": {"field": "d", "type": "temporal", "axis": null}, "y": {"field": "p", "type": "quantitative", "scale": {"type": "log", "domain": [1352, 219560]}, "axis": null}}},
  {"data": {"values": [{"d": "2022-04-06", "v": 54.63}, {"d": "2022-05-01", "v": 54.52}, {"d": "2022-05-20", "v": 54.42}, {"d": "2022-06-08", "v": 54.28}, {"d": "2022-06-28", "v": 54.03}, {"d": "2022-07-17", "v": 53.82}, {"d": "2022-08-05", "v": 53.57}, {"d": "2022-08-24", "v": 53.22}, {"d": "2022-09-08", "v": 52.83}, {"d": "2022-09-20", "v": 52.4}, {"d": "2022-09-30", "v": 51.98}, {"d": "2022-10-08", "v": 51.49}, {"d": "2022-10-13", "v": 51.06}, {"d": "2022-10-17", "v": 50.57}]},
   "mark": {"type": "line", "color": "#4a4e59", "strokeWidth": 2.5, "strokeDash": [1, 8], "strokeCap": "round"},
   "encoding": {
     "x": {"field": "d", "type": "temporal", "axis": null},
     "y": {"field": "v", "type": "quantitative", "title": null,
       "scale": {"domain": [38.353, 58.97]},
       "axis": {"orient": "left", "offset": -39, "labelAlign": "right", "labelBaseline": "middle", "format": ".2f",
         "values": [39, 39.5, 40, 40.5, 41, 41.5, 42, 43, 43.5, 44, 44.5, 45, 45.5, 46, 46.5, 47, 47.5, 48, 48.5, 49, 49.5, 50, 50.5, 51, 51.5, 52, 52.5, 53, 53.5, 54, 54.5, 55, 55.5, 56, 56.5, 57, 57.5, 58, 58.5]}}}},
  {"data": {"name": "cR"},
   "mark": {"type": "line", "color": "#ffffff", "strokeWidth": 1.8},
   "encoding": {"x": {"field": "d", "type": "temporal", "axis": null}, "y": {"field": "r", "type": "quantitative", "scale": {"domain": [38.353, 58.97]}, "axis": null}}},
  {"data": {"values": [{"d": "2022-05-25", "v": 48.82, "v2": 41.51}, {"d": "2023-01-19", "v": 48.01, "v2": 41.75}]},
   "mark": {"type": "rule", "color": "#ffffff", "strokeWidth": 4, "strokeDash": [4, 6]},
   "encoding": {"x": {"field": "d", "type": "temporal", "axis": null}, "y": {"field": "v", "type": "quantitative", "scale": {"domain": [38.353, 58.97]}, "axis": null}, "y2": {"field": "v2"}}},
  {"data": {"values": [{"d": "2022-05-25", "d2": "2023-01-20", "v": 41.32, "v2": 41.74}]},
   "mark": {"type": "rule", "color": "#ffffff", "strokeWidth": 4},
   "encoding": {"x": {"field": "d", "type": "temporal", "axis": null}, "x2": {"field": "d2"}, "y": {"field": "v", "type": "quantitative", "scale": {"domain": [38.353, 58.97]}, "axis": null}, "y2": {"field": "v2"}}},
  {"data": {"values": [{"d": "2022-06-30", "v": 41.51}, {"d": "2022-11-20", "v": 41.68}]},
   "mark": {"type": "point", "shape": "circle", "filled": true, "size": 2800, "fill": "#4caf50", "fillOpacity": 0.5, "stroke": "#66bb6a", "strokeWidth": 2.5, "strokeOpacity": 1, "opacity": 1},
   "encoding": {"x": {"field": "d", "type": "temporal", "axis": null}, "y": {"field": "v", "type": "quantitative", "scale": {"domain": [38.353, 58.97]}, "axis": null}}},
  {"data": {"values": [{"d": "2022-06-20", "v": 47.98, "t": "$17.6k"}, {"d": "2022-11-15", "v": 47.41, "t": "$15.4k"}, {"d": "2022-08-01", "v": 45.49, "t": "RSI 100 (2d)"}, {"d": "2022-06-26", "v": 40.76, "t": "RSI = 43"}, {"d": "2022-11-12", "v": 40.75, "t": "RSI = 44"}]},
   "mark": {"type": "text", "font": "Open Sans", "fontSize": 22, "fontWeight": 600, "color": "#ffffff"},
   "encoding": {"x": {"field": "d", "type": "temporal", "axis": null}, "y": {"field": "v", "type": "quantitative", "scale": {"domain": [38.353, 58.97]}, "axis": null}, "text": {"field": "t"}}},
  {"data": {"values": [{"d": "2023-01-07", "v": 57.28}]},
   "mark": {"type": "point", "shape": "M-0.882,-0.735L0.882,-0.735Q1,-0.735 1,-0.617L1,0.617Q1,0.735 0.882,0.735L-0.882,0.735Q-1,0.735 -1,0.617L-1,-0.617Q-1,-0.735 -0.882,-0.735Z", "filled": true, "fill": "#ffca28", "size": 28900, "angle": -3.4, "opacity": 1, "strokeWidth": 0},
   "encoding": {"x": {"field": "d", "type": "temporal", "axis": null}, "y": {"field": "v", "type": "quantitative", "scale": {"domain": [38.353, 58.97]}, "axis": null}}},
  {"data": {"values": [{"d": "2023-01-07", "v": 57.28, "t": "2022"}]},
   "mark": {"type": "text", "font": "Open Sans", "fontSize": 45, "color": "#ffffff", "angle": -3.4},
   "encoding": {"x": {"field": "d", "type": "temporal", "axis": null}, "y": {"field": "v", "type": "quantitative", "scale": {"domain": [38.353, 58.97]}, "axis": null}, "text": {"field": "t"}}},
  {"data": {"values": [{"d": "2023-06-12", "v": 41.55}]},
   "mark": {"type": "point", "shape": "M-0.904,-0.534L0.904,-0.534Q1,-0.534 1,-0.438L1,0.438Q1,0.534 0.904,0.534L-0.904,0.534Q-1,0.534 -1,0.438L-1,-0.438Q-1,-0.534 -0.904,-0.534Z", "filled": true, "fill": "#ffca28", "size": 43264, "angle": -4.2, "opacity": 1, "strokeWidth": 0},
   "encoding": {"x": {"field": "d", "type": "temporal", "axis": null}, "y": {"field": "v", "type": "quantitative", "scale": {"domain": [38.353, 58.97]}, "axis": null}}},
  {"data": {"values": [{"d": "2023-06-15", "v": 41.54, "t": "الأكاديمية"}]},
   "mark": {"type": "text", "font": "DejaVu Sans", "fontSize": 32, "color": "#ffffff", "angle": -4.2},
   "encoding": {"x": {"field": "d", "type": "temporal", "axis": null}, "y": {"field": "v", "type": "quantitative", "scale": {"domain": [38.353, 58.97]}, "axis": null}, "text": {"field": "t"}}},
  {"data": {"values": [
     {"d": "2022-04-08", "v": 58.74, "t": "Bitcoin / U.S. Dollar, 2D, INDEX, Heikin Ashi", "k": "lab"},
     {"d": "2022-08-22", "v": 58.74, "t": "O", "k": "lab"}, {"d": "2022-08-27", "v": 58.74, "t": "17299.07", "k": "val"},
     {"d": "2022-09-27", "v": 58.74, "t": "H", "k": "lab"}, {"d": "2022-10-01", "v": 58.74, "t": "17299.07", "k": "val"},
     {"d": "2022-11-01", "v": 58.74, "t": "L", "k": "lab"}, {"d": "2022-11-06", "v": 58.74, "t": "16587.81", "k": "val"},
     {"d": "2022-12-06", "v": 58.74, "t": "C", "k": "lab"}, {"d": "2022-12-11", "v": 58.74, "t": "16909.80", "k": "val"},
     {"d": "2023-01-10", "v": 58.74, "t": "−316.03 (−1.83%)", "k": "val"},
     {"d": "2023-03-06", "v": 58.74, "t": "Vol", "k": "lab"}, {"d": "2023-03-15", "v": 58.74, "t": "16.532K", "k": "val"}]},
   "mark": {"type": "text", "fontSize": 12, "align": "left"},
   "encoding": {"x": {"field": "d", "type": "temporal", "axis": null}, "y": {"field": "v", "type": "quantitative", "scale": {"domain": [38.353, 58.97]}, "axis": null}, "text": {"field": "t"},
     "color": {"field": "k", "type": "nominal", "legend": null, "scale": {"domain": ["lab", "val"], "range": ["#d1d4dc", "#f7525f"]}}}},
  {"data": {"values": [{"d": "2023-09-15", "v": 58.75, "t": "USD"}]},
   "mark": {"type": "text", "fontSize": 12, "align": "left", "color": "#b2b5be"},
   "encoding": {"x": {"field": "d", "type": "temporal", "axis": null}, "y": {"field": "v", "type": "quantitative", "scale": {"domain": [38.353, 58.97]}, "axis": null}, "text": {"field": "t"}}},
  {"data": {"values": [{"d": "2022-03-09", "d2": "2022-04-03", "v": 42.36, "v2": 42.6}]},
   "mark": {"type": "rect", "fill": "#ffffff", "stroke": "#ffffff", "strokeWidth": 1},
   "encoding": {"x": {"field": "d", "type": "temporal", "axis": null}, "x2": {"field": "d2"}, "y": {"field": "v", "type": "quantitative", "scale": {"domain": [38.353, 58.97]}, "axis": null}, "y2": {"field": "v2"}}},
  {"data": {"values": [{"d": "2022-03-22", "v": 42.49, "t": "42.49"}]},
   "mark": {"type": "text", "fontSize": 12, "color": "#131722"},
   "encoding": {"x": {"field": "d", "type": "temporal", "axis": null}, "y": {"field": "v", "type": "quantitative", "scale": {"domain": [38.353, 58.97]}, "axis": null}, "text": {"field": "t"}}},
  {"data": {"values": [{"d": "2022-03-21", "v": 38.57}, {"d": "2023-09-30", "v": 38.57}]},
   "mark": {"type": "point", "shape": "circle", "filled": true, "size": 420, "fill": "#2a2e39", "opacity": 1},
   "encoding": {"x": {"field": "d", "type": "temporal", "axis": null}, "y": {"field": "v", "type": "quantitative", "scale": {"domain": [38.353, 58.97]}, "axis": null}}},
  {"data": {"values": [{"d": "2022-03-21", "v": 38.57, "t": "Z"}, {"d": "2023-09-30", "v": 38.57, "t": "A"}]},
   "mark": {"type": "text", "fontSize": 12, "color": "#787b86"},
   "encoding": {"x": {"field": "d", "type": "temporal", "axis": null}, "y": {"field": "v", "type": "quantitative", "scale": {"domain": [38.353, 58.97]}, "axis": null}, "text": {"field": "t"}}}
]
}
]
}
